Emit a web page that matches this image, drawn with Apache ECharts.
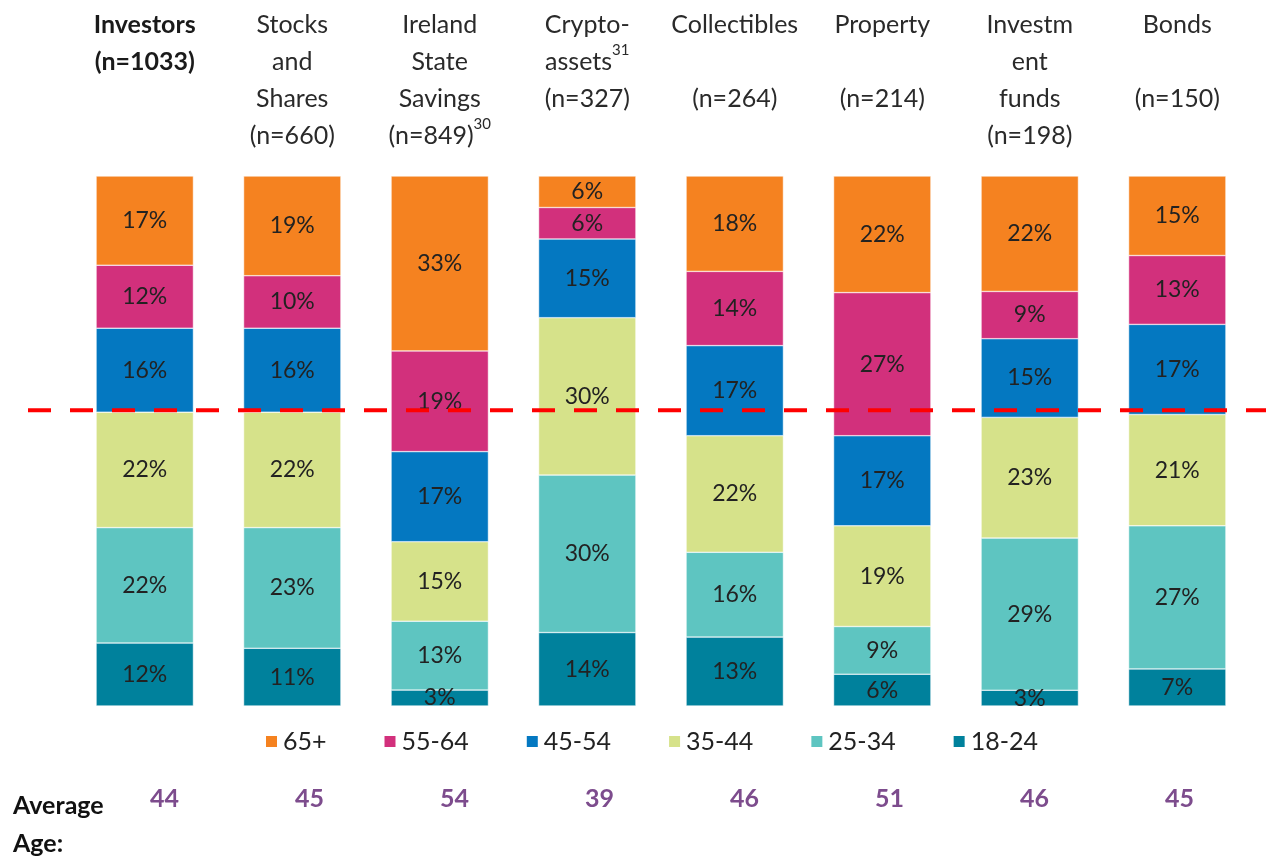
<!DOCTYPE html>
<html>
<head>
<meta charset="utf-8">
<script src="https://cdn.jsdelivr.net/npm/echarts@6/dist/echarts.min.js"></script>
<style>
  html, body { margin: 0; padding: 0; background: #fff; }
  #chart { width: 1266px; height: 856px; }
</style>
</head>
<body>
<div id="chart"></div>
<script>
// column headers (rich text, sup = footnote marker)
var headers = [
    '{b|Investors}\n{b|(n=1033)}',
    'Stocks\nand\nShares\n(n=660)',
    'Ireland\nState\nSavings\n(n=849){sup|30}',
    'Crypto-\nassets{sup|31}\n(n=327)',
    'Collectibles\n\n(n=264)',
    'Property\n\n(n=214)',
    'Investm\nent\nfunds\n(n=198)',
    'Bonds\n\n(n=150)'
];
var avgAge = [44, 45, 54, 39, 46, 51, 46, 45];

// shares per age group, one value per column
var age65plus = [17, 19, 33, 6, 18, 22, 22, 15];
var age55_64  = [12, 10, 19, 6, 14, 27, 9, 13];
var age45_54  = [16, 16, 17, 15, 17, 17, 15, 17];
var age35_44  = [22, 22, 15, 30, 22, 19, 23, 21];
var age25_34  = [22, 23, 13, 30, 16, 9, 29, 27];
var age18_24  = [12, 11, 3, 14, 13, 6, 3, 7];

var avgLine = 55.8; // red dashed reference line, % from bottom

var groups = [
    {name: '18-24', data: age18_24, color: '#00819C'},
    {name: '25-34', data: age25_34, color: '#5EC5C1'},
    {name: '35-44', data: age35_44, color: '#D6E28A'},
    {name: '45-54', data: age45_54, color: '#0478C1'},
    {name: '55-64', data: age55_64, color: '#D2307C'},
    {name: '65+',   data: age65plus, color: '#F58220'}
];

// rounded shares don't always add to 100, scale each column to fill the bar
var totals = headers.map(function (h, i) {
    return groups.reduce(function (s, g) { return s + g.data[i]; }, 0);
});

var series = groups.map(function (g) {
    return {
        name: g.name,
        type: 'bar',
        stack: 'all',
        barWidth: '66%',
        itemStyle: {color: g.color, borderColor: '#fff', borderWidth: 0.5},
        label: {
            show: true,
            position: 'inside',
            fontFamily: 'Lato',
            fontSize: 23,
            color: '#222',
            formatter: function (p) { return p.data.raw + '%'; }
        },
        data: g.data.map(function (v, i) {
            return {value: v / totals[i] * 100, raw: v};
        })
    };
});

var myChart = echarts.init(document.getElementById('chart'));
myChart.setOption({
    animation: false,
    title: {
        text: 'Average\nAge:',
        left: 8,
        top: 782,
        textStyle: {fontFamily: 'Lato', fontSize: 25, fontWeight: 'bold', color: '#111', lineHeight: 38}
    },
    legend: {
        data: ['65+', '55-64', '45-54', '35-44', '25-34', '18-24'],
        left: 259,
        top: 724,
        icon: 'rect',
        itemWidth: 13,
        itemHeight: 13,
        itemGap: 56,
        selectedMode: false,
        textStyle: {fontFamily: 'Lato', fontSize: 25, color: '#222'}
    },
    grid: [
        {left: 71, right: 15, top: 176, bottom: 150},
        {left: 92, right: 14, top: 700, height: 80}
    ],
    xAxis: [
        {
            type: 'category',
            gridIndex: 0,
            position: 'top',
            data: headers,
            axisLine: {show: false},
            axisTick: {show: false},
            axisLabel: {
                interval: 0,
                margin: 170,
                verticalAlign: 'top',
                fontFamily: 'Lato',
                fontSize: 25,
                lineHeight: 37,
                color: '#2a2a2a',
                rich: {
                    b: {fontFamily: 'Lato', fontSize: 25, fontWeight: 'bold', lineHeight: 37, color: '#1a1a1a'},
                    sup: {fontFamily: 'Lato', fontSize: 15, lineHeight: 28, verticalAlign: 'top', color: '#2a2a2a'}
                }
            }
        },
        {
            type: 'category',
            gridIndex: 1,
            position: 'bottom',
            data: avgAge,
            axisLine: {show: false},
            axisTick: {show: false},
            axisLabel: {
                interval: 0,
                margin: 6,
                verticalAlign: 'top',
                fontFamily: 'Lato',
                fontSize: 25,
                fontWeight: 'bold',
                color: '#7D4C8D'
            }
        }
    ],
    yAxis: [
        {type: 'value', gridIndex: 0, min: 0, max: 100, show: false},
        {type: 'value', gridIndex: 1, show: false}
    ],
    series: series
});

// dashed line runs past the plot edges, so draw it as a graphic at the axis position
var lineY = myChart.convertToPixel({yAxisIndex: 0}, avgLine);
myChart.setOption({
    graphic: [{
        type: 'line',
        shape: {x1: 28, y1: lineY, x2: 1300, y2: lineY},
        style: {stroke: '#FF0000', lineWidth: 4, lineDash: [23, 19]},
        z: 10
    }]
});
</script>
</body>
</html>
